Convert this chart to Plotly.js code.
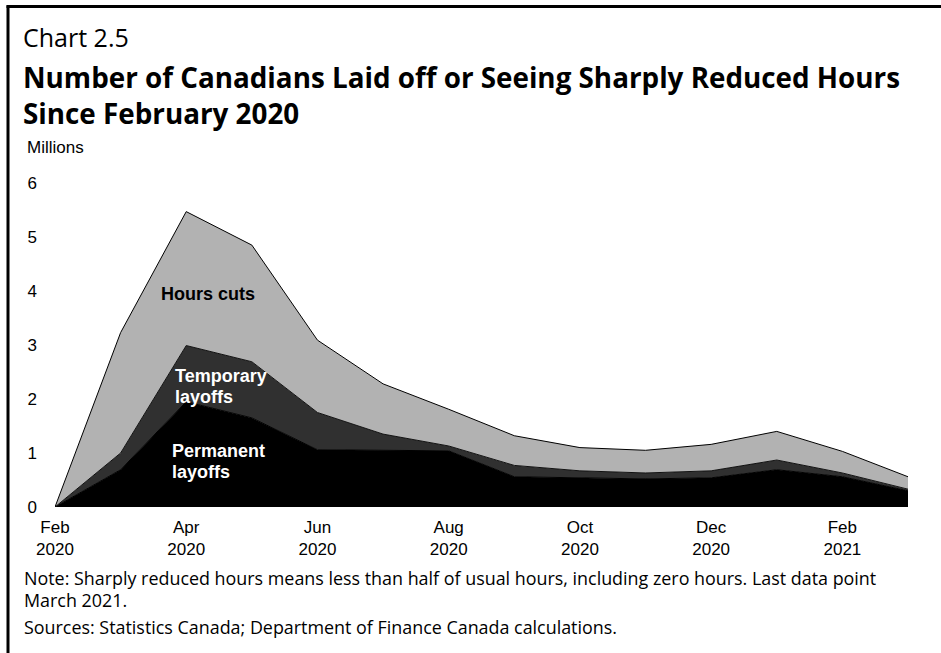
<!DOCTYPE html>
<html>
<head>
<meta charset="utf-8">
<script src="https://cdn.plot.ly/plotly-3.0.1.min.js"></script>
<style>
html,body{margin:0;padding:0;background:#fff;}
#chart{width:941px;height:653px;}
</style>
</head>
<body>
<div id="chart"></div>
<script>
// Months (Feb 2020 – Mar 2021)
const months = ["Feb 2020","Mar 2020","Apr 2020","May 2020","Jun 2020","Jul 2020","Aug 2020",
                "Sep 2020","Oct 2020","Nov 2020","Dec 2020","Jan 2021","Feb 2021","Mar 2021"];
// Millions of Canadians
const permanentLayoffs = [0, 0.69, 1.95, 1.65, 1.06, 1.05, 1.04, 0.56, 0.54, 0.52, 0.54, 0.69, 0.56, 0.30];
const temporaryLayoffs = [0, 0.31, 1.04, 1.04, 0.69, 0.30, 0.09, 0.21, 0.13, 0.11, 0.13, 0.18, 0.07, 0.03];
const hoursCuts        = [0, 2.23, 2.48, 2.16, 1.34, 0.93, 0.68, 0.55, 0.43, 0.42, 0.49, 0.53, 0.40, 0.23];
// Tick labels
const xTickVals = ["Feb 2020","Apr 2020","Jun 2020","Aug 2020","Oct 2020","Dec 2020","Feb 2021"];
const xTickText = ["Feb<br>2020","Apr<br>2020","Jun<br>2020","Aug<br>2020","Oct<br>2020","Dec<br>2020","Feb<br>2021"];
const yTickVals = [0,1,2,3,4,5,6];

const traces = [
  {x: months, y: permanentLayoffs, name: "Permanent layoffs", type: "scatter", mode: "lines",
   stackgroup: "one", fillcolor: "#000000", line: {color: "#000000", width: 1}},
  {x: months, y: temporaryLayoffs, name: "Temporary layoffs", type: "scatter", mode: "lines",
   stackgroup: "one", fillcolor: "#303030", line: {color: "#111111", width: 1}},
  {x: months, y: hoursCuts, name: "Hours cuts", type: "scatter", mode: "lines",
   stackgroup: "one", fillcolor: "#b2b2b2", line: {color: "#000000", width: 1}}
];

const W = 853, H = 323.7, L = 55, B = 507;
const px = v => (v - L) / W;
const py = v => (B - v) / H;
const sans = "Open Sans, Noto Sans, sans-serif";
const arial = "Liberation Sans, Arial, sans-serif";

const annotations = [
  {text: "Chart 2.5", x: px(21), y: py(37), font: {family: sans, size: 25, color: "#000"}},
  {text: "<b>Number of Canadians Laid off or Seeing Sharply Reduced Hours</b>", x: px(21), y: py(77), font: {family: sans, size: 27.8, color: "#000"}},
  {text: "<b>Since February 2020</b>", x: px(21), y: py(113), font: {family: sans, size: 27.8, color: "#000"}},
  {text: "Millions", x: px(25), y: py(148), font: {family: arial, size: 17, color: "#000"}},
  {text: "<b>Hours cuts</b>", x: px(208), y: py(294), xanchor: "center", font: {family: arial, size: 18, color: "#000"}},
  {text: "<b>Temporary</b>", x: px(173), y: py(376), font: {family: arial, size: 18, color: "#fff"}},
  {text: "<b>layoffs</b>", x: px(173), y: py(397), font: {family: arial, size: 18, color: "#fff"}},
  {text: "<b>Permanent</b>", x: px(170), y: py(451), font: {family: arial, size: 18, color: "#fff"}},
  {text: "<b>layoffs</b>", x: px(170), y: py(472), font: {family: arial, size: 18, color: "#fff"}},
  {text: "Note: Sharply reduced hours means less than half of usual hours, including zero hours. Last data point", x: px(22), y: py(578), font: {family: sans, size: 17.9, color: "#000"}},
  {text: "March 2021.", x: px(22), y: py(600), font: {family: sans, size: 17.9, color: "#000"}},
  {text: "Sources: Statistics Canada; Department of Finance Canada calculations.", x: px(22), y: py(627), font: {family: sans, size: 17.9, color: "#000"}}
].map(a => Object.assign({xref: "paper", yref: "paper", xanchor: "left", yanchor: "middle", showarrow: false, align: "left"}, a));

const shapes = [
  {type: "line", xref: "paper", yref: "paper", x0: px(8), x1: px(8), y0: py(6), y1: py(660), line: {color: "#000", width: 3}},
  {type: "line", xref: "paper", yref: "paper", x0: px(6.5), x1: px(945), y0: py(7), y1: py(7), line: {color: "#000", width: 3}}
];

const layout = {
  width: 941, height: 653,
  margin: {l: 55, r: 33, t: 183, b: 146, pad: 0},
  paper_bgcolor: "#fff", plot_bgcolor: "#fff",
  showlegend: false,
  xaxis: {type: "category", range: [0, months.length - 1], tickvals: xTickVals, ticktext: xTickText,
          showgrid: false, zeroline: false, showline: false, ticks: "", ticklabelstandoff: 8,
          tickfont: {family: arial, size: 17, color: "#000"}, fixedrange: true},
  yaxis: {range: [0, 6], tickvals: yTickVals, showgrid: false, zeroline: false, showline: false,
          ticks: "", ticklabelstandoff: 17, tickfont: {family: arial, size: 17, color: "#000"}, fixedrange: true},
  annotations: annotations,
  shapes: shapes
};

Plotly.newPlot("chart", traces, layout, {displayModeBar: false, staticPlot: true});
</script>
</body>
</html>
